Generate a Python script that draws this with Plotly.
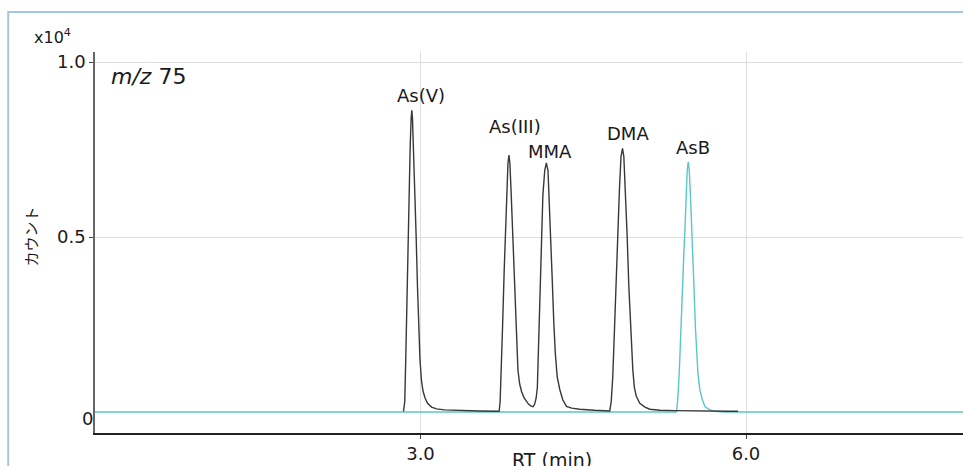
import plotly.graph_objects as go

# ---- data (counts in units of x10^4, RT in min) ----
rt_black = [2.843, 2.855, 2.864, 2.873, 2.883, 2.894, 2.905, 2.914, 2.920, 2.926, 2.935, 2.947,
            2.960, 2.972, 2.984, 2.995, 3.009, 3.023, 3.042, 3.065, 3.102, 3.148, 3.222, 3.360,
            3.545, 3.702,
            3.725, 3.734, 3.743, 3.757, 3.771, 3.782, 3.794, 3.806, 3.815, 3.824, 3.835, 3.852,
            3.868, 3.883, 3.898, 3.914, 3.932, 3.955, 3.975, 3.997, 4.020, 4.037,
            4.052, 4.066, 4.077, 4.089, 4.101, 4.114, 4.128, 4.145, 4.160, 4.175, 4.188, 4.200,
            4.214, 4.228, 4.242, 4.260, 4.283, 4.311, 4.345, 4.394, 4.468, 4.606, 4.735,
            4.744, 4.758, 4.772, 4.786, 4.800, 4.812, 4.821, 4.834, 4.848, 4.862, 4.874, 4.888,
            4.905, 4.920, 4.934, 4.945, 4.957, 4.971, 4.989, 5.021, 5.068, 5.114, 5.206, 5.345,
            5.483, 5.622, 5.825, 5.926]
counts_black = [0.002, 0.03, 0.15, 0.30, 0.45, 0.62, 0.76, 0.84, 0.862, 0.84, 0.76, 0.62,
                0.50, 0.36, 0.24, 0.15, 0.09, 0.06, 0.04, 0.025, 0.014, 0.009, 0.006, 0.004,
                0.003, 0.002,
                0.002, 0.03, 0.10, 0.25, 0.40, 0.50, 0.62, 0.71, 0.734, 0.71, 0.63, 0.50,
                0.36, 0.23, 0.12, 0.08, 0.058, 0.04, 0.030, 0.022, 0.017, 0.015,
                0.022, 0.04, 0.07, 0.20, 0.38, 0.50, 0.62, 0.69, 0.712, 0.69, 0.60, 0.50,
                0.38, 0.26, 0.17, 0.10, 0.065, 0.035, 0.016, 0.011, 0.008, 0.005, 0.004,
                0.003, 0.03, 0.10, 0.22, 0.36, 0.46, 0.53, 0.64, 0.73, 0.753, 0.73, 0.64,
                0.50, 0.36, 0.25, 0.19, 0.12, 0.07, 0.045, 0.025, 0.014, 0.008, 0.005, 0.004,
                0.003, 0.003, 0.002, 0.002]

rt_cyan = [0.0, 5.354, 5.360, 5.372, 5.386, 5.400, 5.414, 5.428, 5.437, 5.449, 5.458, 5.468,
           5.477, 5.488, 5.505, 5.520, 5.534, 5.545, 5.557, 5.575, 5.598, 5.622, 5.668, 5.714,
           5.806, 8.0]
counts_cyan = [0.0, 0.0, 0.003, 0.04, 0.12, 0.25, 0.37, 0.46, 0.52, 0.63, 0.69, 0.715,
               0.69, 0.62, 0.50, 0.36, 0.24, 0.18, 0.11, 0.063, 0.035, 0.015, 0.006, 0.002,
               0.0, 0.0]

peak_names = ["As(V)", "As(III)", "MMA", "DMA", "AsB"]
label_rt = [3.0, 3.868, 4.191, 4.911, 5.511]
label_counts = [0.905, 0.815, 0.745, 0.795, 0.755]

x_ticks = [3.0, 6.0]
x_ticktext = ["3.0", "6.0"]
y_ticks = [0.5, 1.0]
y_ticktext = ["0.5", "1.0"]
y_zero_label = "0"

FONT = "DejaVu Sans"
TXT = "#1a1a1a"

fig = go.Figure()
fig.add_trace(go.Scatter(x=rt_cyan, y=counts_cyan, mode="lines",
                         line=dict(color="#5cc6c6", width=1.4), showlegend=False))
fig.add_trace(go.Scatter(x=rt_black, y=counts_black, mode="lines",
                         line=dict(color="#383838", width=1.4), showlegend=False))

for name, lx, ly in zip(peak_names, label_rt, label_counts):
    fig.add_annotation(x=lx, y=ly, text=name, showarrow=False, xanchor="center",
                       yanchor="middle", font=dict(family=FONT, size=18, color=TXT))

# outer frame
fig.add_shape(type="rect", xref="paper", yref="paper", x0=-0.1, x1=1.2, y0=-0.3, y1=1.105,
              line=dict(color="#a3c6e7", width=2), layer="below")

fig.add_annotation(xref="paper", yref="paper", x=0.016, y=0.935, xanchor="left", yanchor="middle",
                   text="<i>m/z</i> 75", showarrow=False, font=dict(family=FONT, size=22, color=TXT))
fig.add_annotation(xref="paper", yref="paper", x=-0.073, y=1.04, xanchor="left", yanchor="middle",
                   text="x10<sup>4</sup>", showarrow=False, font=dict(family=FONT, size=16, color=TXT))
fig.add_annotation(xref="paper", y=0.0, x=0.0, xanchor="right", yanchor="middle", yshift=-6,
                   text=y_zero_label, showarrow=False, font=dict(family=FONT, size=18, color=TXT))
fig.add_annotation(xref="paper", yref="paper", x=0.526, y=-0.071, xanchor="center", yanchor="middle",
                   text="RT (min)", showarrow=False, font=dict(family=FONT, size=19, color=TXT))
fig.add_annotation(xref="paper", yref="paper", x=-0.074, y=0.515, xanchor="center", yanchor="middle",
                   text="カウント", textangle=-90, showarrow=False,
                   font=dict(family="Noto Sans CJK JP", size=15, color=TXT))

fig.update_layout(
    width=963, height=466,
    margin=dict(l=95, r=0, t=52, b=33),
    paper_bgcolor="white", plot_bgcolor="white",
    font=dict(family=FONT, size=18, color=TXT),
    xaxis=dict(range=[0, 8], tickvals=x_ticks, ticktext=x_ticktext, showgrid=True,
               gridcolor="#dedede", gridwidth=1, zeroline=False, showline=True,
               linecolor="#222222", linewidth=1.5, ticks="outside", ticklen=4,
               tickcolor="#444444", tickfont=dict(family=FONT, size=18, color=TXT)),
    yaxis=dict(range=[-0.06, 1.0286], tickvals=y_ticks, ticktext=y_ticktext, showgrid=True,
               gridcolor="#dedede", gridwidth=1, zeroline=False, showline=True,
               linecolor="#666666", linewidth=1.5, ticks="outside", ticklen=4,
               tickcolor="#444444", tickfont=dict(family=FONT, size=18, color=TXT)),
)

fig.write_html("out.html", config={"displayModeBar": False},
               post_script="document.body.style.margin='0';")
